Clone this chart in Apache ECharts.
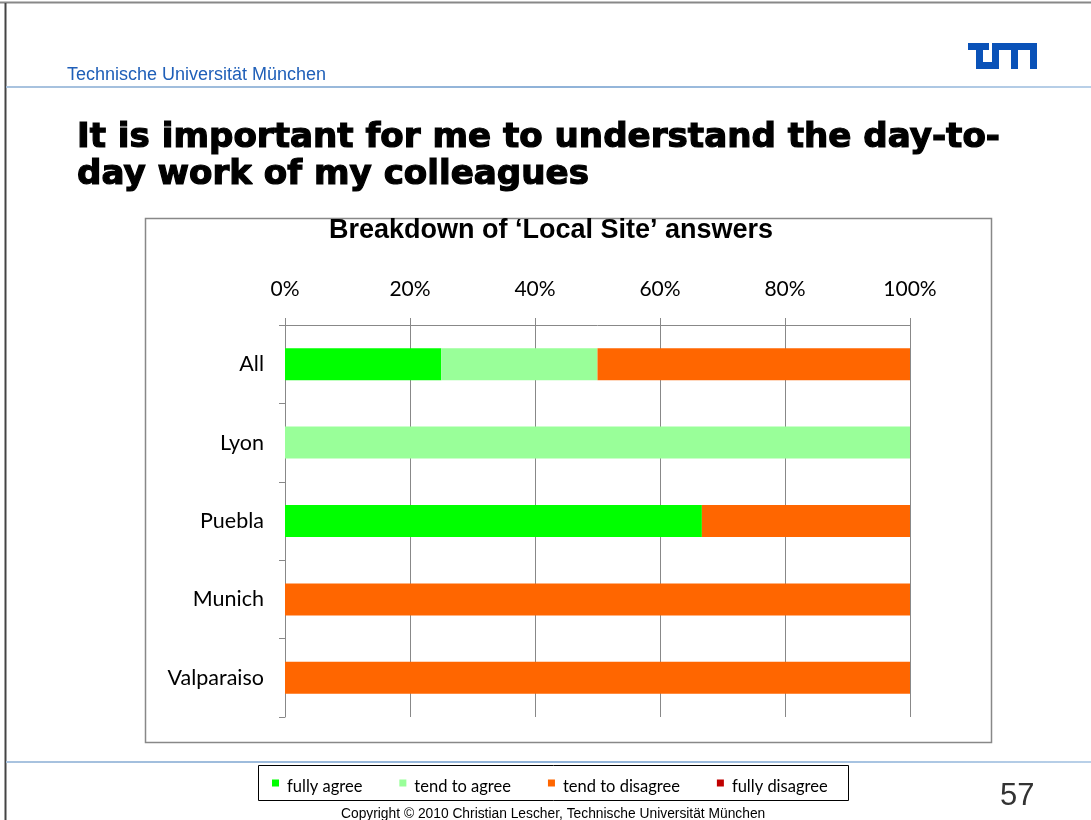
<!DOCTYPE html>
<html>
<head>
<meta charset="utf-8">
<script src="https://cdn.jsdelivr.net/npm/echarts@6/dist/echarts.min.js"></script>
<style>html,body{margin:0;padding:0;background:#fff;}#c{width:1091px;height:820px;}</style>
</head>
<body>
<div id="c"></div>
<script>
const categories = ['All', 'Lyon', 'Puebla', 'Munich', 'Valparaiso'];
const seriesNames = ['fully agree', 'tend to agree', 'tend to disagree', 'fully disagree'];
const fullyAgree = [25, 0, 66.7, 0, 0];
const tendToAgree = [25, 100, 0, 0, 0];
const tendToDisagree = [50, 0, 33.3, 100, 100];
const fullyDisagree = [0, 0, 0, 0, 0];
const seriesValues = [fullyAgree, tendToAgree, tendToDisagree, fullyDisagree];
const seriesColors = ['#00FF00', '#99FF99', '#FF6600', '#C00000'];
const xTicks = [0, 20, 40, 60, 80, 100];

const titleLines = ['It is important for me to understand the day-to-', 'day work of my colleagues'];
const titleFont = 'bold 34px "DejaVu Sans"';
const mctx = document.createElement('canvas').getContext('2d');
mctx.font = titleFont;
const titleScale = 923 / mctx.measureText(titleLines[0]).width;

const chart = echarts.init(document.getElementById('c'), null, {renderer: 'canvas'});
const blue = '#1f5fb8';
const logoBlue = '#0a52b8';
const lineGrad = new echarts.graphic.LinearGradient(0, 0, 1, 0, [
  {offset: 0, color: '#a9c3df'}, {offset: 0.5, color: '#8fb2d8'}, {offset: 1, color: '#b9d0e8'}
]);
const logoRects = [
  [968, 43, 21, 7], [976, 43, 7, 26], [976, 62, 22, 7], [992, 43, 7, 26],
  [992, 43, 45, 7], [1011, 43, 7, 26], [1030, 43, 7, 26]
];

chart.setOption({
  animation: false,
  title: {
    text: 'Breakdown of \u2018Local Site\u2019 answers',
    left: 324, top: 212,
    textStyle: {fontFamily: 'Liberation Sans', fontWeight: 'bold', fontSize: 27, color: '#000'}
  },
  legend: {
    left: 267, top: 773, itemGap: 37, itemWidth: 7, itemHeight: 14,
    icon: 'path://M0,0h7v7h-7z M0,13.99h0.01v0.01h-0.01z',
    textStyle: {fontFamily: 'Lato', fontSize: 16.5, color: '#000', padding: [0, 0, 0, 3]},
    data: seriesNames
  },
  grid: {left: 285, right: 181, top: 325, bottom: 103, containLabel: false},
  xAxis: {
    type: 'value', position: 'top', min: 0, max: 100, interval: 20,
    axisLine: {show: true, lineStyle: {color: '#888'}},
    axisTick: {show: true, length: 7, lineStyle: {color: '#888'}},
    splitLine: {show: true, lineStyle: {color: '#888'}},
    axisLabel: {margin: 25, fontFamily: 'Lato', fontSize: 21, color: '#000', formatter: v => xTicks.includes(v) ? v + '%' : ''}
  },
  yAxis: {
    type: 'category', inverse: true, data: categories,
    axisLine: {show: true, lineStyle: {color: '#888'}},
    axisTick: {show: true, length: 6, lineStyle: {color: '#888'}},
    axisLabel: {margin: 21, fontFamily: 'Lato', fontSize: 21.5, color: '#000'}
  },
  series: seriesNames.map((n, i) => ({
    name: n, type: 'bar', stack: 'total', barWidth: 32,
    itemStyle: {color: seriesColors[i]},
    data: seriesValues[i]
  })),
  graphic: [
    {type: 'line', shape: {x1: 0, y1: 2.5, x2: 1091, y2: 2.5}, style: {stroke: '#888', lineWidth: 2}},
    {type: 'line', shape: {x1: 5.5, y1: 3, x2: 5.5, y2: 820}, style: {stroke: '#444', lineWidth: 2}},
    {type: 'text', left: 67, top: 66, style: {text: 'Technische Universit\u00e4t M\u00fcnchen', fill: blue, font: '18px "Liberation Sans"'}},
    {type: 'rect', shape: {x: 6, y: 86, width: 1085, height: 2}, style: {fill: lineGrad}},
    {type: 'rect', shape: {x: 6, y: 761, width: 1085, height: 2}, style: {fill: lineGrad}},
    ...logoRects.map(r => ({type: 'rect', shape: {x: r[0], y: r[1], width: r[2], height: r[3]}, style: {fill: logoBlue}})),
    {type: 'text', x: 77, y: 120, scaleX: titleScale,
     style: {text: titleLines.join('\n'), x: 0, y: 0, fill: '#000', stroke: '#000', lineWidth: 1.2, font: titleFont, lineHeight: 37, verticalAlign: 'top'}},
    {type: 'rect', z: -1, shape: {x: 145.5, y: 218.5, width: 846, height: 524}, style: {fill: 'none', stroke: '#888', lineWidth: 1.5}},
    {type: 'rect', shape: {x: 258.5, y: 765.5, width: 590, height: 35}, style: {fill: 'none', stroke: '#000', lineWidth: 1}},
    {type: 'text', left: 1000, top: 781, style: {text: '57', fill: '#333', font: '31px "Liberation Sans"'}},
    {type: 'text', left: 341, top: 807, style: {text: 'Copyright \u00a9 2010 Christian Lescher, Technische Universit\u00e4t M\u00fcnchen', fill: '#000', font: '13.8px "Liberation Sans"'}}
  ]
});
</script>
</body>
</html>
